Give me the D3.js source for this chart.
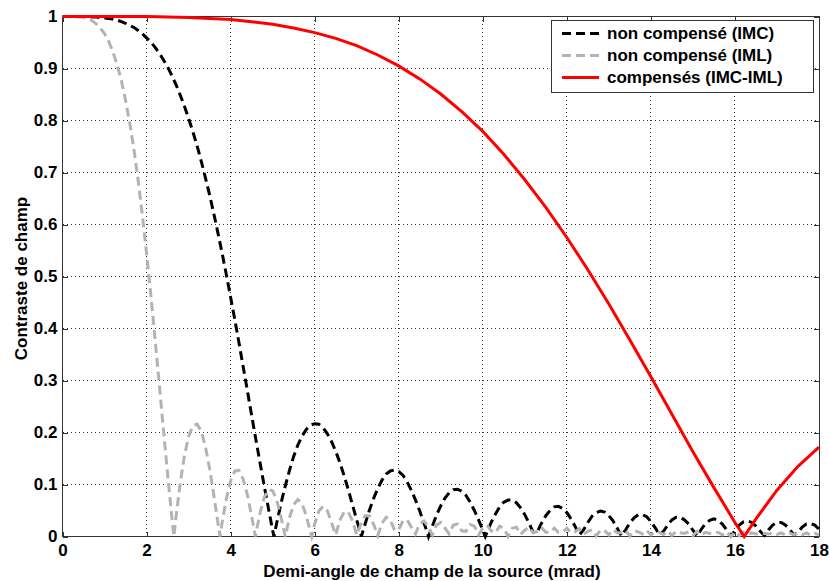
<!DOCTYPE html>
<html>
<head>
<meta charset="utf-8">
<script src="https://cdn.jsdelivr.net/npm/d3@7"></script>
<style>
body{margin:0;background:#fff;}
text{font-family:"Liberation Sans",Arial,sans-serif;font-weight:bold;}
</style>
</head>
<body>
<svg id="chart" width="830" height="581"></svg>
<script>
// pas en abscisse (mrad) des deux courbes non compensees
const xStep = 0.1;

// non compense (IMC), x = 0 .. 18
const imc = [1.000,
 1.000,1.000,1.000,1.000,1.000,1.000,0.999,0.999,0.998,0.997,
 0.996,0.995,0.993,0.990,0.987,0.983,0.979,0.973,0.967,0.959,
 0.951,0.941,0.930,0.917,0.903,0.887,0.869,0.849,0.828,0.804,
 0.779,0.752,0.722,0.690,0.657,0.621,0.583,0.544,0.503,0.460,
 0.417,0.372,0.326,0.280,0.233,0.187,0.142,0.097,0.054,0.012,
 0.027,0.064,0.097,0.127,0.154,0.176,0.193,0.206,0.214,0.217,
 0.216,0.209,0.198,0.183,0.164,0.142,0.117,0.090,0.061,0.032,
 0.004,0.024,0.050,0.073,0.092,0.108,0.120,0.126,0.128,0.125,
 0.118,0.105,0.089,0.070,0.049,0.026,0.003,0.020,0.041,0.059,
 0.074,0.084,0.090,0.091,0.087,0.079,0.066,0.050,0.032,0.012,
 0.008,0.027,0.043,0.057,0.066,0.070,0.070,0.065,0.055,0.042,
 0.026,0.008,0.009,0.026,0.040,0.050,0.057,0.058,0.054,0.046,
 0.034,0.019,0.003,0.013,0.027,0.039,0.046,0.049,0.047,0.040,
 0.030,0.016,0.001,0.013,0.026,0.036,0.042,0.042,0.038,0.029,
 0.017,0.004,0.010,0.022,0.032,0.037,0.037,0.032,0.024,0.012,
 0.001,0.014,0.025,0.031,0.034,0.031,0.024,0.013,0.001,0.011,
 0.022,0.028,0.030,0.027,0.020,0.010,0.002,0.013,0.022,0.027,
 0.027,0.022,0.014,0.003,0.008,0.018,0.024,0.025,0.022,0.014];
// minima (contraste nul)
const imcZeros = [5.03,7.11,8.71,10.06];

// non compense (IML), x = 0 .. 18
const iml = [1.000,
 1.000,1.000,1.000,0.999,0.998,0.996,0.992,0.986,0.978,0.967,
 0.952,0.932,0.907,0.877,0.839,0.795,0.744,0.685,0.618,0.545,
 0.466,0.382,0.295,0.207,0.121,0.038,0.037,0.102,0.155,0.192,
 0.213,0.216,0.203,0.173,0.131,0.080,0.025,0.028,0.073,0.107,
 0.126,0.127,0.110,0.080,0.039,0.005,0.045,0.075,0.090,0.088,
 0.069,0.037,0.000,0.036,0.061,0.071,0.063,0.040,0.008,0.024,
 0.049,0.058,0.050,0.027,0.003,0.031,0.047,0.047,0.030,0.003,
 0.024,0.040,0.040,0.024,0.002,0.025,0.037,0.032,0.012,0.013,
 0.030,0.032,0.018,0.005,0.025,0.030,0.019,0.003,0.022,0.027,
 0.016,0.005,0.022,0.024,0.011,0.010,0.023,0.020,0.003,0.016,
 0.022,0.011,0.007,0.020,0.016,0.000,0.016,0.018,0.004,0.012,
 0.018,0.007,0.010,0.017,0.008,0.008,0.016,0.008,0.008,0.016,
 0.007,0.009,0.015,0.004,0.010,0.013,0.001,0.012,0.011,0.003,
 0.013,0.007,0.007,0.012,0.001,0.011,0.009,0.005,0.012,0.003,
 0.010,0.008,0.004,0.011,0.002,0.010,0.007,0.006,0.009,0.002,
 0.010,0.003,0.008,0.006,0.006,0.008,0.003,0.009,0.000,0.009,
 0.002,0.008,0.004,0.007,0.005,0.006,0.006,0.005,0.007,0.004,
 0.007,0.003,0.007,0.003,0.007,0.003,0.007,0.003,0.006,0.003];
const imlZeros = [2.65,3.75,4.59,5.93];

// compenses (IMC-IML)
const compX = [0,0.5,1,1.5,2,2.5,3,3.5,4,4.5,5,5.5,6,6.5,7,7.5,8,8.5,9,9.5,
 10,10.5,11,11.5,12,12.5,13,13.5,14,14.5,15,15.5,16,16.22,16.5,17,17.5,18];
const comp = [1.000,1.000,1.000,1.000,1.000,0.999,0.998,0.996,0.994,0.990,
 0.985,0.978,0.969,0.958,0.944,0.926,0.905,0.880,0.851,0.817,
 0.779,0.735,0.686,0.633,0.575,0.513,0.447,0.378,0.307,0.235,
 0.163,0.094,0.027,0.000,0.034,0.089,0.135,0.172];

const xTicks = [0,2,4,6,8,10,12,14,16,18];
const yTicks = [0,0.1,0.2,0.3,0.4,0.5,0.6,0.7,0.8,0.9,1];
const legendLabels = ["non compensé (IMC)","non compensé (IML)","compensés (IMC-IML)"];
const xTitle = "Demi-angle de champ de la source (mrad)";
const yTitle = "Contraste de champ";

const svg = d3.select("#chart");
const axisColor = "#333";

const x = d3.scaleLinear().domain([0,18]).range([62.5,819]);
const y = d3.scaleLinear().domain([0,1]).range([536.5,16.5]);

// grille en pointilles
let grid = svg.append("g").attr("shape-rendering","crispEdges")
  .attr("stroke",axisColor).attr("stroke-dasharray","1,3");
grid.selectAll(".gx").data(xTicks.slice(1,-1)).join("line")
  .attr("class","gx")
  .attr("x1",d=>x(d)).attr("x2",d=>x(d))
  .attr("y1",y(0)).attr("y2",y(1));
grid.selectAll(".gy").data(yTicks.slice(1,-1)).join("line")
  .attr("class","gy")
  .attr("x1",x(0)).attr("x2",x(18))
  .attr("y1",d=>y(d)).attr("y2",d=>y(d));

const fmt = d3.format("~g");

function styleAxis(g){
  g.attr("font-size",17)
   .attr("font-family","Liberation Sans, Arial, sans-serif")
   .attr("font-weight","bold")
   .attr("shape-rendering","crispEdges");
  g.select(".domain").remove();
  g.selectAll(".tick line").attr("stroke",axisColor);
  g.selectAll(".tick text").attr("fill","#000");
}

// axes (graduations vers l'interieur, comme matlab)
svg.append("g").attr("transform",`translate(0,${y(0)})`)
  .call(d3.axisBottom(x).tickValues(xTicks).tickSize(-5).tickSizeOuter(0).tickPadding(7).tickFormat(fmt))
  .call(styleAxis);
svg.append("g").attr("transform",`translate(0,${y(1)})`)
  .call(d3.axisTop(x).tickValues(xTicks).tickSize(-5).tickSizeOuter(0).tickFormat(""))
  .call(styleAxis);
svg.append("g").attr("transform",`translate(${x(0)},0)`)
  .call(d3.axisLeft(y).tickValues(yTicks).tickSize(-5).tickSizeOuter(0).tickPadding(5).tickFormat(fmt))
  .call(styleAxis);
svg.append("g").attr("transform",`translate(${x(18)},0)`)
  .call(d3.axisRight(y).tickValues(yTicks).tickSize(-5).tickSizeOuter(0).tickFormat(""))
  .call(styleAxis);

// cadre
svg.append("rect")
  .attr("x",x(0)).attr("y",y(1))
  .attr("width",x(18)-x(0)).attr("height",y(0)-y(1))
  .attr("fill","none").attr("stroke",axisColor)
  .attr("shape-rendering","crispEdges");

// courbes
const line = d3.line().x(d=>x(d[0])).y(d=>y(d[1]));

function withZeros(vals, zeros){
  let pts = vals.map((v,i)=>[i*xStep,v]);
  zeros.forEach(z=>pts.push([z,0]));
  return pts.sort((a,b)=>a[0]-b[0]);
}

const series = [
  {pts: withZeros(imc,imcZeros), color:"#000", dash:"9,5"},
  {pts: withZeros(iml,imlZeros), color:"#b3b3b3", dash:"9,5"},
  {pts: comp.map((v,i)=>[compX[i],v]), color:"#ff0000", dash:null}
];

svg.append("g").selectAll("path").data(series).join("path")
  .attr("d",d=>line(d.pts))
  .attr("fill","none")
  .attr("stroke",d=>d.color)
  .attr("stroke-width",3)
  .attr("stroke-dasharray",d=>d.dash);

// legende
let leg = svg.append("g");
leg.append("rect")
  .attr("x",551.5).attr("y",20.5).attr("width",262).attr("height",72)
  .attr("fill","#fff").attr("stroke",axisColor)
  .attr("shape-rendering","crispEdges");
let items = leg.selectAll(".item").data(series).join("g")
  .attr("class","item")
  .attr("transform",(d,i)=>`translate(0,${33.5+i*22})`);
items.append("line")
  .attr("x1",562).attr("x2",599)
  .attr("stroke",d=>d.color).attr("stroke-width",3)
  .attr("stroke-dasharray",d=>d.dash);
items.append("text")
  .attr("x",607).attr("dy","0.35em")
  .attr("font-size",17)
  .text((d,i)=>legendLabels[i]);

// titres des axes
svg.append("text")
  .attr("x",432).attr("y",576.5)
  .attr("text-anchor","middle").attr("font-size",17)
  .text(xTitle);
svg.append("text")
  .attr("transform","translate(26.5,278.5) rotate(-90)")
  .attr("text-anchor","middle").attr("font-size",17)
  .text(yTitle);
</script>
</body>
</html>
